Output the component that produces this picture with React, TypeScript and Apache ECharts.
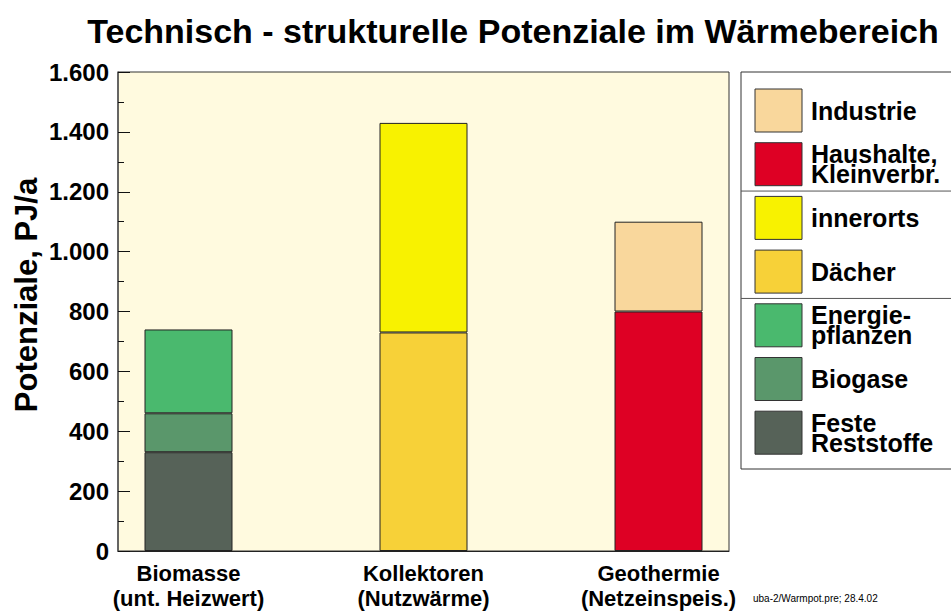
import React, { useEffect, useRef } from "react";
import * as echarts from "echarts";

// ---- data ----
const categories = ["Biomasse\n(unt. Heizwert)", "Kollektoren\n(Nutzwärme)", "Geothermie\n(Netzeinspeis.)"];
const festeReststoffe = [330, null, null];
const biogase = [130, null, null];
const energiepflanzen = [280, null, null];
const daecher = [null, 730, null];
const innerorts = [null, 700, null];
const haushalte = [null, null, 800];
const industrie = [null, null, 300];
const yTicks = [0, 200, 400, 600, 800, 1000, 1200, 1400, 1600];

const seriesDefs = [
  { name: "Feste\nReststoffe", values: festeReststoffe },
  { name: "Biogase", values: biogase },
  { name: "Energie-\npflanzen", values: energiepflanzen },
  { name: "Dächer", values: daecher },
  { name: "innerorts", values: innerorts },
  { name: "Haushalte,\nKleinverbr.", values: haushalte },
  { name: "Industrie", values: industrie },
];
// legend order, top to bottom, with group breaks after these indices
const legendOrder = ["Industrie", "Haushalte,\nKleinverbr.", "innerorts", "Dächer", "Energie-\npflanzen", "Biogase", "Feste\nReststoffe"];
const legendBreaksAfter = [1, 3];

// ---- styles ----
const colors: Record<string, string> = {
  "Feste\nReststoffe": "#566258",
  "Biogase": "#5A976B",
  "Energie-\npflanzen": "#4AB96E",
  "Dächer": "#F7D138",
  "innerorts": "#F8F200",
  "Haushalte,\nKleinverbr.": "#DE0024",
  "Industrie": "#F9D79C",
};
const FONT = "'Liberation Sans', Arial, Helvetica, sans-serif";

function fmtDe(v: number): string {
  if (v >= 1000) {
    return Math.floor(v / 1000) + "." + String(v % 1000).padStart(3, "0");
  }
  return String(v);
}

export default function App() {
  const ref = useRef<HTMLDivElement>(null);
  useEffect(() => {
    if (!ref.current) return;
    const chart = echarts.init(ref.current, undefined, { renderer: "svg" });

    const gridLeft = 118, gridTop = 72, gridRight = 729, gridBottom = 551;
    // bar layer: category bands are wider than the frame's share (side margins ~0.3 band)
    const plotW = gridRight - gridLeft;
    const band = plotW / 2.6;
    const barsLeft = gridLeft + 0.3 * band - band / 2;
    const barsWidth = band * categories.length;

    const legendGraphics: any[] = [];
    const boxX = 741, boxY = 72, boxH = 397;
    legendGraphics.push({
      type: "rect",
      shape: { x: boxX, y: boxY, width: 230, height: boxH },
      style: { fill: "#ffffff", stroke: "#333", lineWidth: 1 },
      z: 1,
    });
    const firstTop = 89, step = 53.7, sq = 43;
    legendOrder.forEach((name, i) => {
      const top = firstTop + i * step;
      legendGraphics.push({
        type: "rect",
        shape: { x: 755, y: top, width: 47, height: sq },
        style: { fill: colors[name], stroke: "#333", lineWidth: 1 },
        z: 2,
      });
      legendGraphics.push({
        type: "text",
        x: 811,
        y: top + sq / 2,
        style: {
          text: name,
          font: `bold 25px ${FONT}`,
          fill: "#000",
          align: "left",
          verticalAlign: "middle",
          lineHeight: 20,
        },
        z: 2,
      });
      if (legendBreaksAfter.includes(i)) {
        const ly = top + sq + (step - sq) / 2;
        legendGraphics.push({
          type: "line",
          shape: { x1: boxX, y1: ly, x2: 951, y2: ly },
          style: { stroke: "#555", lineWidth: 1 },
          z: 2,
        });
      }
    });

    chart.setOption({
      animation: false,
      backgroundColor: "#ffffff",
      textStyle: { fontFamily: FONT },
      grid: [
        {
          left: gridLeft,
          top: gridTop,
          width: plotW,
          height: gridBottom - gridTop,
          show: true,
          backgroundColor: "#FFFADF",
          borderColor: "#333",
          borderWidth: 1,
        },
        {
          left: barsLeft,
          top: gridTop,
          width: barsWidth,
          height: gridBottom - gridTop,
          show: false,
        },
      ],
      xAxis: [
        {
          gridIndex: 0,
          type: "value",
          min: 0,
          max: 1,
          splitLine: { show: false },
          axisTick: { show: false },
          axisLabel: { show: false },
          axisLine: { show: true, lineStyle: { color: "#222", width: 1 } },
        },
        {
          gridIndex: 1,
          type: "category",
          data: categories,
          axisLine: { show: false },
          axisTick: { show: false },
          splitLine: { show: false },
          axisLabel: {
            fontSize: 22,
            fontWeight: "bold",
            color: "#000",
            lineHeight: 25,
            margin: 10,
            fontFamily: FONT,
          },
        },
      ],
      yAxis: [
        {
          gridIndex: 0,
          type: "value",
          min: 0,
          max: 1600,
          interval: 200,
          splitLine: { show: false },
          axisLine: { show: true, lineStyle: { color: "#555", width: 1.5 } },
          axisTick: { show: true, inside: true, length: 12, lineStyle: { color: "#111" } },
          minorTick: { show: true, splitNumber: 2, length: 6, lineStyle: { color: "#111" } },
          axisLabel: {
            formatter: (v: number) => (yTicks.includes(v) ? fmtDe(v) : ""),
            fontSize: 24,
            fontWeight: "bold",
            color: "#000",
            margin: 9,
            fontFamily: FONT,
          },
        },
        {
          gridIndex: 1,
          type: "value",
          min: 0,
          max: 1600,
          interval: 200,
          show: false,
          splitLine: { show: false },
        },
      ],
      series: seriesDefs.map((s) => ({
        type: "bar",
        name: s.name,
        stack: "total",
        xAxisIndex: 1,
        yAxisIndex: 1,
        barWidth: 88,
        data: s.values.map((v) => (v === null ? "-" : v)),
        itemStyle: { color: colors[s.name], borderColor: "#222", borderWidth: 1 },
        z: 3,
      })),
      graphic: [
        {
          type: "text",
          x: 513,
          y: 31,
          style: {
            text: "Technisch - strukturelle Potenziale im Wärmebereich",
            font: `bold 34px ${FONT}`,
            fill: "#000",
            align: "center",
            verticalAlign: "middle",
          },
        },
        {
          type: "text",
          x: 26,
          y: 295,
          rotation: Math.PI / 2,
          style: {
            text: "Potenziale, PJ/a",
            font: `bold 31px ${FONT}`,
            fill: "#000",
            align: "center",
            verticalAlign: "middle",
          },
        },
        {
          type: "text",
          x: 753,
          y: 598,
          style: {
            text: "uba-2/Warmpot.pre; 28.4.02",
            font: `10px ${FONT}`,
            fill: "#000",
            align: "left",
            verticalAlign: "middle",
          },
        },
        ...legendGraphics,
      ],
    });
    return () => chart.dispose();
  }, []);
  return (
    <div
      ref={ref}
      style={{ position: "fixed", left: 0, top: 0, width: 951, height: 611 }}
    />
  );
}
